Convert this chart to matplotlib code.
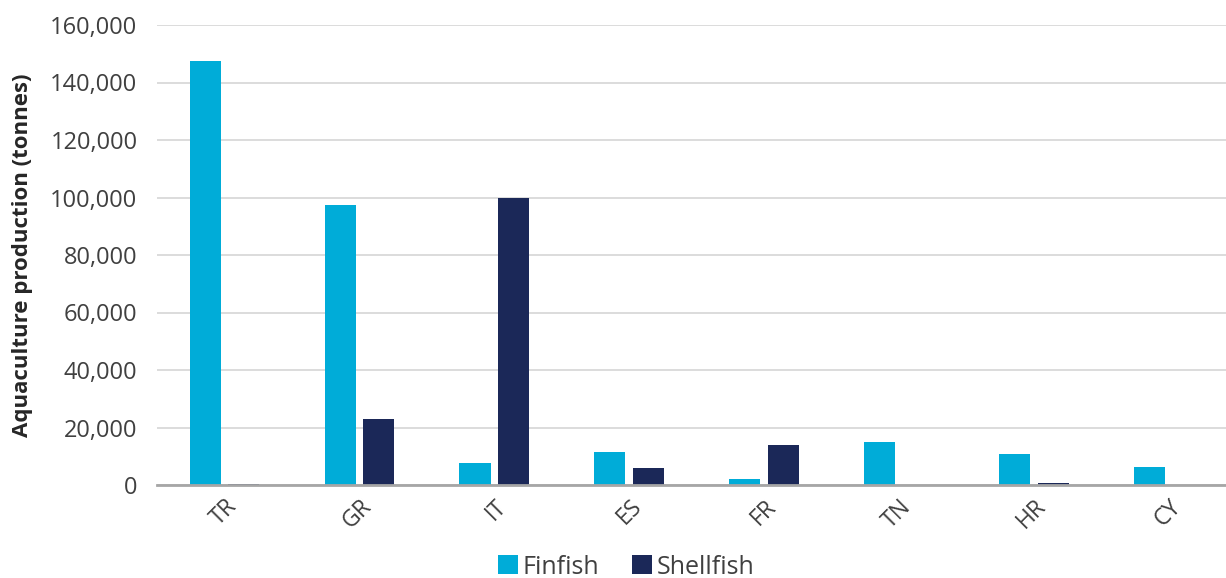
import matplotlib.pyplot as plt
from matplotlib.ticker import FuncFormatter
import numpy as np

# data
countries = ["TR", "GR", "IT", "ES", "FR", "TN", "HR", "CY"]
finfish = [147500, 97500, 7800, 11400, 2100, 14900, 10800, 6300]
shellfish = [300, 23000, 100000, 5800, 13800, 0, 700, 0]

plt.rcParams['font.family'] = ['Open Sans', 'DejaVu Sans']

fig = plt.figure(figsize=(12.26, 5.78), dpi=100)
ax = fig.add_axes([157/1226, 1-485/578, 1-157/1226, 460/578])

x = np.arange(len(countries))
w = 0.23
off = 0.144
ax.bar(x - off, finfish, w, color="#00ACD8", label="Finfish", zorder=3)
ax.bar(x + off, shellfish, w, color="#1B2858", label="Shellfish", zorder=3)

ax.set_ylim(0, 160000)
ax.set_xlim(-0.5, 7.42)
ax.set_yticks(np.arange(0, 160001, 20000))
ax.yaxis.set_major_formatter(FuncFormatter(lambda v, p: f"{int(v):,}"))
ax.grid(axis="y", color="#D9D9D9", linewidth=1.3, zorder=0)
ax.set_axisbelow(True)

for s in ["top", "right", "left"]:
    ax.spines[s].set_visible(False)
ax.spines["bottom"].set_color("#A6A6A6")
ax.spines["bottom"].set_linewidth(2)
ax.spines["bottom"].set_zorder(4)

ax.tick_params(axis="y", length=0, pad=14, labelsize=17, labelcolor="#404040")
ax.tick_params(axis="x", length=0, pad=7, labelsize=16.5, labelcolor="#404040")
ax.set_xticks(x)
ax.set_xticklabels(countries, rotation=45, ha="right", rotation_mode="anchor")

ax.set_ylabel("Aquaculture production (tonnes)", fontsize=16, fontweight="bold",
              color="#262626", labelpad=12)
ax.yaxis.set_label_coords(-124/1069, 0.5)

fig.legend(*ax.get_legend_handles_labels(), loc="center", bbox_to_anchor=(626/1226, 1-567/578),
           ncol=2, frameon=False, fontsize=18, handlelength=0.8, handleheight=0.8,
           handletextpad=0.2, columnspacing=1.3, labelcolor="#404040")

fig.savefig("out.png", dpi=100)
